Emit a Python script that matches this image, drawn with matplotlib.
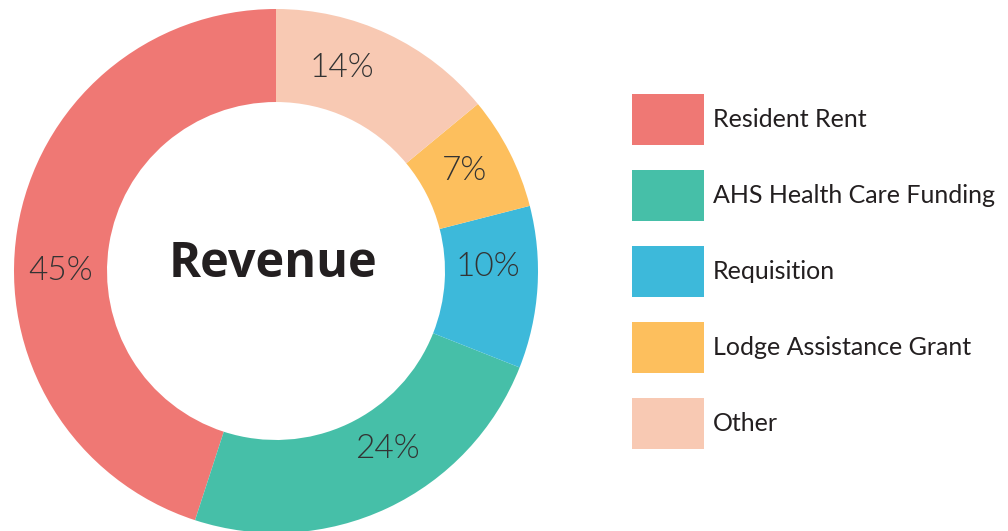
import matplotlib
matplotlib.use("Agg")
import numpy as np
import matplotlib.pyplot as plt

# revenue shares, legend order (drawn counter-clockwise from 12 o'clock)
categories = ["Resident Rent", "AHS Health Care Funding", "Requisition",
              "Lodge Assistance Grant", "Other"]
shares = [45, 24, 10, 7, 14]
colors = ["#EF7874", "#46BFA8", "#3DB9DA", "#FDBF5D", "#F8C9B3"]
center_title = "Revenue"

# where each percentage label sits (angle in degrees, radius as fraction)
label_angles = [180, 302, 1, 28, 72]
label_radii = [0.822, 0.80, 0.81, 0.817, 0.815]

plt.rcParams['font.family'] = ['Lato', 'DejaVu Sans']

W, H = 1008, 531
fig = plt.figure(figsize=(W / 100, H / 100), dpi=100)

# pie axes: centre at (276, 271) px, outer radius 262 px
cx, cy, r = 276, 271, 262
ax = fig.add_axes([(cx - r) / W, (H - cy - r) / H, 2 * r / W, 2 * r / H])

wedges, texts, autotexts = ax.pie(
    shares, colors=colors, startangle=90, counterclock=True,
    radius=1, autopct=lambda p: f"{p:.0f}%", pctdistance=0.822,
    wedgeprops=dict(width=0.355, linewidth=0),
    textprops=dict(fontsize=24, fontweight=300, color='#333333'))
for t, a, rr in zip(autotexts, label_angles, label_radii):
    t.set_position((rr * np.cos(np.radians(a)), rr * np.sin(np.radians(a))))
ax.set_xlim(-1, 1)
ax.set_ylim(-1, 1)
ax.set_aspect('equal')
ax.axis('off')

ax.text(-0.01, -0.023, center_title, ha='center', va='baseline',
        fontsize=35, fontweight='bold', color='#231F20',
        family=['Open Sans', 'DejaVu Sans'])

fs = 18
fig.legend(wedges, categories, loc='upper left',
           bbox_to_anchor=(632 / W, 1 - 94 / H),
           bbox_transform=fig.transFigure, frameon=False,
           fontsize=fs, borderpad=0, borderaxespad=0,
           handlelength=72 / 25, handleheight=2.76,
           handletextpad=0.36, labelspacing=1.0,
           labelcolor='#231F20')

fig.savefig("out.png", dpi=100)
